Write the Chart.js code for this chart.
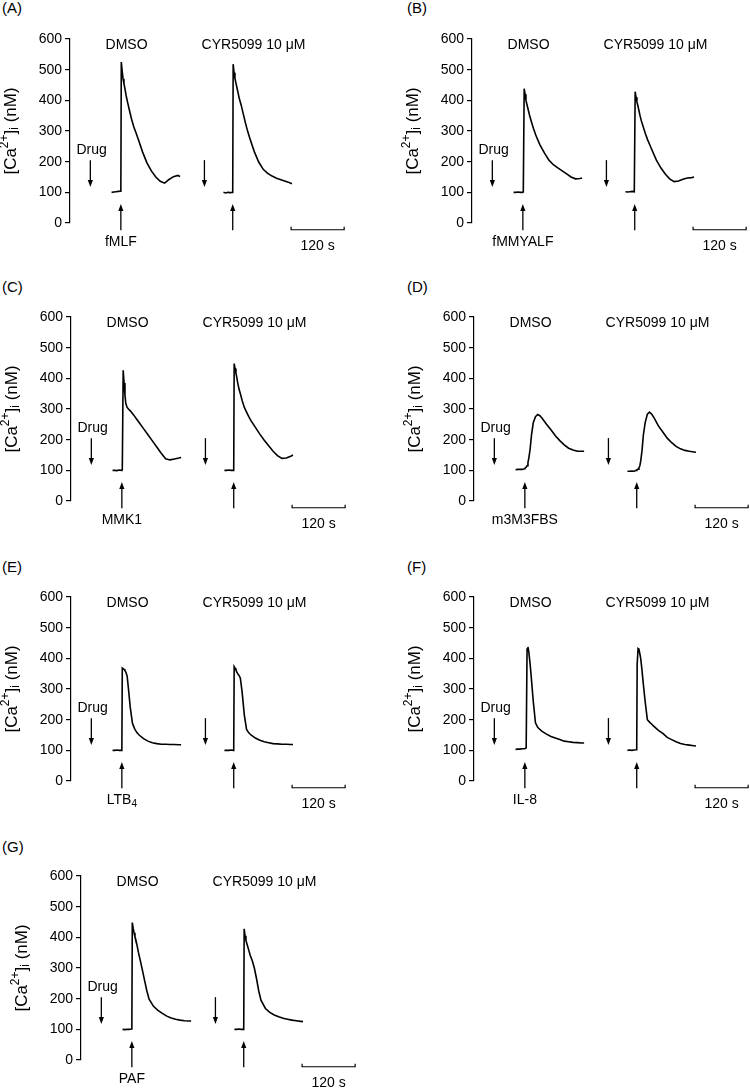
<!DOCTYPE html>
<html>
<head>
<meta charset="utf-8">
<script src="https://cdn.jsdelivr.net/npm/chart.js@4.4.1/dist/chart.umd.min.js"></script>
<style>
  html, body { margin: 0; padding: 0; background: #fff; overflow: hidden; }
  body { width: 750px; height: 1089px; position: relative; font-family: "Liberation Sans", Arial, sans-serif; }
  canvas { position: absolute; }
  .lbl { position: absolute; font-size: 15px; line-height: 16px; color: #000; }
</style>
</head>
<body>
<div class="lbl" style="left:2px;top:0px">(A)</div>
<div class="lbl" style="left:407px;top:0px">(B)</div>
<div class="lbl" style="left:2px;top:279px">(C)</div>
<div class="lbl" style="left:407px;top:279px">(D)</div>
<div class="lbl" style="left:2px;top:559px">(E)</div>
<div class="lbl" style="left:407px;top:559px">(F)</div>
<div class="lbl" style="left:2px;top:839px">(G)</div>

<canvas id="cA" width="375" height="290" style="left:-2px;top:-6px"></canvas>
<canvas id="cB" width="375" height="290" style="left:400px;top:-6px"></canvas>
<canvas id="cC" width="375" height="290" style="left:-1px;top:272px"></canvas>
<canvas id="cD" width="375" height="290" style="left:402px;top:272px"></canvas>
<canvas id="cE" width="375" height="290" style="left:-1px;top:552px"></canvas>
<canvas id="cF" width="375" height="290" style="left:402px;top:552px"></canvas>
<canvas id="cG" width="375" height="290" style="left:9px;top:831px"></canvas>

<script>
// --- data: seconds after the start of each trace, [Ca2+]i in nM ---
const T = [0, 5, 10, 15, 20, 21, 22, 24, 26, 28, 30, 33, 36, 40, 45, 50, 55, 60, 70, 80, 90, 100, 110, 120, 130, 140, 150, 155];

const DMSO_START = 94;   // s, on the shared time axis
const CYR_START = 347;

const A_DMSO = [100,101,102,103,104,105,525,495,470,455,440,415,395,370,340,315,295,275,232,196,170,150,136,130,142,151,155,152];
const A_CYR  = [100,98,100,99,100,101,518,490,472,458,445,425,405,385,355,325,298,275,232,198,175,162,153,146,141,136,131,128];
const B_DMSO = [100,100,101,100,100,100,101,438,420,400,388,370,352,332,308,288,270,254,228,205,190,180,170,160,150,144,145,147];
const B_CYR  = [102,101,102,103,102,102,428,410,395,383,370,350,333,315,292,272,255,238,205,180,160,144,135,137,143,147,148,150];
const C_DMSO = [100,100,99,101,100,101,102,426,385,345,318,305,300,294,285,276,266,256,236,216,196,176,156,138,134,137,140,142];
const C_CYR  = [100,100,101,100,100,101,448,432,418,402,385,365,350,328,305,290,275,262,240,218,198,180,162,148,139,140,146,150];
const D_DMSO = [102,103,103,103,105,106,108,110,115,125,140,170,215,255,275,282,278,270,250,232,213,197,183,172,166,162,162,162];
const D_CYR  = [97,97,98,97,100,101,102,104,108,115,130,165,215,255,283,290,283,272,245,225,205,190,178,170,165,162,160,159];
const E_DMSO = [100,100,101,100,100,101,368,366,364,360,355,342,300,240,188,170,158,150,138,130,125,122,120,120,119,119,118,118];
const E_CYR  = [100,100,100,101,100,101,373,368,362,355,350,344,335,290,215,168,157,150,140,133,128,125,122,121,120,120,119,119];
const F_DMSO = [103,104,104,105,105,105,106,108,430,437,420,380,330,260,190,175,168,162,153,145,140,135,130,128,126,125,124,124];
const F_CYR  = [100,101,100,101,102,103,380,432,430,415,400,360,315,260,200,192,185,178,165,155,142,135,128,122,119,117,115,114];
const G_DMSO = [100,99,100,100,101,102,448,430,415,402,392,372,350,325,292,258,225,198,175,162,152,143,137,133,130,128,127,127];
const G_CYR  = [100,100,101,100,100,101,428,405,390,380,370,355,340,325,300,265,225,195,168,155,147,141,136,133,130,128,126,125];

const Y_TICKS = [0, 100, 200, 300, 400, 500, 600];
const AGONISTS = [["fMLF", ""], ["fMMYALF", ""], ["MMK1", ""], ["m3M3FBS", ""], ["LTB", "4"], ["IL-8", ""], ["PAF", ""]];

const panels = [
	{ id: "cA", dmso: A_DMSO, cyr: A_CYR, ag: AGONISTS[0] },
	{ id: "cB", dmso: B_DMSO, cyr: B_CYR, ag: AGONISTS[1] },
	{ id: "cC", dmso: C_DMSO, cyr: C_CYR, ag: AGONISTS[2] },
	{ id: "cD", dmso: D_DMSO, cyr: D_CYR, ag: AGONISTS[3] },
	{ id: "cE", dmso: E_DMSO, cyr: E_CYR, ag: AGONISTS[4] },
	{ id: "cF", dmso: F_DMSO, cyr: F_CYR, ag: AGONISTS[5] },
	{ id: "cG", dmso: G_DMSO, cyr: G_CYR, ag: AGONISTS[6] }
];

const FONT = '"Liberation Sans", Arial, sans-serif';

// arrow: vertical line from y1 to y2, head at y2
function arrow(ctx, x, y1, y2) {
	const dir = y2 > y1 ? 1 : -1;
	ctx.beginPath();
	ctx.moveTo(x, y1);
	ctx.lineTo(x, y2 - dir * 5);
	ctx.stroke();
	ctx.beginPath();
	ctx.moveTo(x, y2);
	ctx.lineTo(x - 2.6, y2 - dir * 7);
	ctx.lineTo(x + 2.6, y2 - dir * 7);
	ctx.closePath();
	ctx.fill();
}

// draws text parts [text, dy, size] centred on x (horizontal run)
function richText(ctx, parts, x, y) {
	let w = 0;
	parts.forEach(p => { ctx.font = p[2] + "px " + FONT; w += ctx.measureText(p[0]).width; });
	let cx = x - w / 2;
	parts.forEach(p => {
		ctx.font = p[2] + "px " + FONT;
		ctx.textAlign = "left";
		ctx.fillText(p[0], cx, y + p[1]);
		cx += ctx.measureText(p[0]).width;
	});
}

const annotations = {
	id: "annotations",
	afterDraw(chart) {
		const ctx = chart.ctx;
		const px = v => chart.scales.x.getPixelForValue(v);
		const py = v => chart.scales.y.getPixelForValue(v);
		const ag = chart.options.plugins.annotations.agonist;
		ctx.save();
		ctx.fillStyle = "#000";
		ctx.strokeStyle = "#000";
		ctx.lineWidth = 1.3;
		ctx.textBaseline = "middle";
		ctx.textAlign = "center";
		ctx.font = "14px " + FONT;
		ctx.fillText("DMSO", px(128), py(581));
		ctx.fillText("CYR5099 10 \u03bcM", px(415), py(581));
		ctx.fillText("Drug", px(49), py(238));

		arrow(ctx, px(46), py(205), py(117));
		arrow(ctx, px(304), py(205), py(117));
		arrow(ctx, px(115), py(-24), py(62));
		arrow(ctx, px(368), py(-24), py(62));

		// agonist name under the first stimulus arrow
		const agParts = [[ag[0], 0, 14]];
		if (ag[1]) agParts.push([ag[1], 4, 10]);
		richText(ctx, agParts, px(115), py(-64));

		// 120 s scale bar
		ctx.lineWidth = 1.2;
		ctx.beginPath();
		ctx.moveTo(px(500), py(-12));
		ctx.lineTo(px(500), py(-22));
		ctx.lineTo(px(620), py(-22));
		ctx.lineTo(px(620), py(-12));
		ctx.stroke();
		ctx.textAlign = "center";
		ctx.font = "14px " + FONT;
		ctx.fillText("120 s", px(560), py(-74));

		// y axis title, rotated
		const area = chart.chartArea;
		ctx.translate(area.left - 59, (area.top + area.bottom) / 2);
		ctx.rotate(-Math.PI / 2);
		richText(ctx, [["[Ca", 0, 17], ["2+", -6, 12], ["]", 0, 17], ["i", 4, 12], [" (nM)", 0, 17]], 0, 0);
		ctx.restore();
	}
};

panels.forEach(p => {
	const el = document.getElementById(p.id);
	new Chart(el.getContext("2d"), {
		type: "line",
		data: {
			datasets: [
				{ label: "DMSO", data: T.map((t, i) => ({ x: DMSO_START + t, y: p.dmso[i] })) },
				{ label: "CYR5099 10 \u03bcM", data: T.map((t, i) => ({ x: CYR_START + t, y: p.cyr[i] })) }
			]
		},
		options: {
			responsive: false,
			animation: false,
			events: [],
			layout: { padding: { left: 22, top: 45, right: 20, bottom: 61 } },
			elements: {
				line: { borderColor: "#000", borderWidth: 1.6, tension: 0, fill: false },
				point: { radius: 0 }
			},
			scales: {
				x: { type: "linear", min: 0, max: 640, display: false },
				y: {
					min: 0, max: 600,
					afterFit(scale) { scale.width = 50; },
					afterBuildTicks(scale) { scale.ticks = Y_TICKS.map(v => ({ value: v })); },
					ticks: { color: "#000", padding: 3, font: { size: 14, family: FONT } },
					grid: { drawOnChartArea: false, drawTicks: true, tickLength: 5, color: "#000", lineWidth: 1.2 },
					border: { display: true, color: "#000", width: 1.2 }
				}
			},
			plugins: {
				legend: { display: false },
				tooltip: { enabled: false },
				annotations: { agonist: p.ag }
			}
		},
		plugins: [annotations]
	});
});
</script>
</body>
</html>
